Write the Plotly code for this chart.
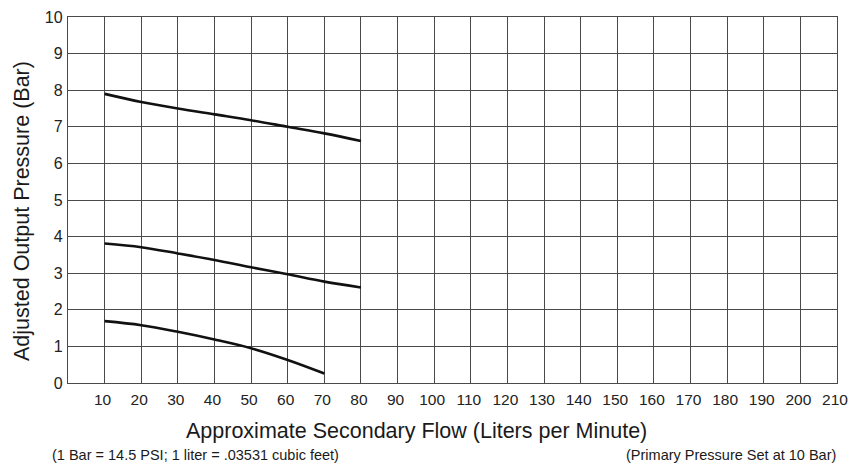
import plotly.graph_objects as go

flow = [10, 20, 30, 40, 50, 60, 70, 80]
high_curve = [7.90, 7.68, 7.50, 7.34, 7.18, 7.00, 6.82, 6.61]
mid_curve = [3.81, 3.71, 3.54, 3.36, 3.16, 2.97, 2.77, 2.61]
low_flow = [10, 20, 30, 40, 50, 60, 70]
low_curve = [1.69, 1.58, 1.40, 1.19, 0.95, 0.63, 0.26]

x_ticks = list(range(10, 220, 10))
y_ticks = list(range(0, 11))

fig = go.Figure()
for xs, ys in [(flow, high_curve), (flow, mid_curve), (low_flow, low_curve)]:
    fig.add_trace(go.Scatter(x=xs, y=ys, mode="lines",
                             line=dict(color="#111111", width=2.6, shape="spline"),
                             showlegend=False, hoverinfo="skip"))

W, H = 849, 467
L, T = 68, 17
R = W - 837
B = H - 383

grid_color = "#4a4a4a"
fig.update_layout(
    width=W, height=H,
    margin=dict(l=L, r=R, t=T, b=B, autoexpand=False),
    paper_bgcolor="white", plot_bgcolor="white",
    font=dict(family="Liberation Sans, Arial, sans-serif", color="#1a1a1a"),
    xaxis=dict(range=[0, 210], tickvals=x_ticks, ticktext=[str(v) for v in x_ticks],
               showgrid=True, gridcolor=grid_color, gridwidth=1.4, automargin=False,
               showline=True, linecolor=grid_color, linewidth=1.4, mirror=True,
               zeroline=False, ticks="", ticklabelstandoff=2, ticklabelshift=-2,
               ticklabeloverflow="allow",
               tickfont=dict(family="Liberation Sans, sans-serif", size=15.5, color="#222")),
    yaxis=dict(range=[0, 10], tickvals=y_ticks, automargin=False,
               showgrid=True, gridcolor=grid_color, gridwidth=1.4,
               showline=True, linecolor=grid_color, linewidth=1.4, mirror=True,
               zeroline=False, ticks="", ticklabelstandoff=1,
               ticklabeloverflow="allow",
               tickfont=dict(family="Liberation Sans, sans-serif", size=16, color="#222")),
)

# annotations placed by window pixel position (x, y), converted to paper coords
notes = [
    ("Approximate Secondary Flow (Liters per Minute)", 416, 431, "center", 0, 21.5),
    ("Adjusted Output Pressure (Bar)", 22, 211, "center", -90, 21.5),
    ("(1 Bar = 14.5 PSI; 1 liter = .03531 cubic feet)", 50, 455, "left", 0, 14.5),
    ("(Primary Pressure Set at 10 Bar)", 838, 455, "right", 0, 14.5),
]
pw = W - L - R
ph = H - T - B
for text, px, py, xa, ang, size in notes:
    fig.add_annotation(text=text, x=(px - L) / pw, y=(H - py - B) / ph,
                       xref="paper", yref="paper", xanchor=xa, yanchor="middle",
                       textangle=ang, showarrow=False,
                       font=dict(size=size, color="#1a1a1a"))

fig.write_html("out.html", config={"displayModeBar": False},
               post_script="document.body.style.margin='0';document.body.style.overflow='hidden';")
